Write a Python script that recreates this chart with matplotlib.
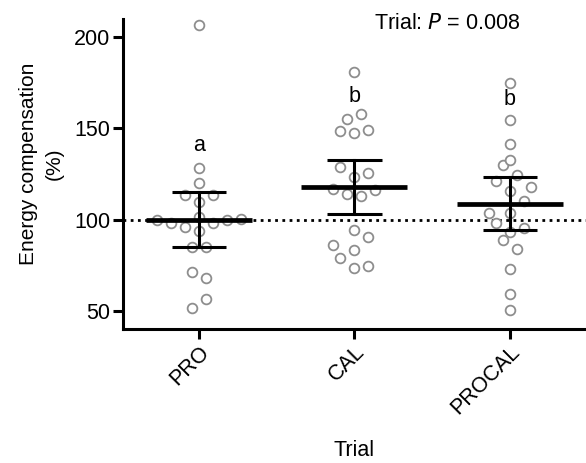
import numpy as np
import matplotlib.pyplot as plt

plt.rcParams["font.family"] = ["Liberation Sans", "DejaVu Sans"]

trials = ["PRO", "CAL", "PROCAL"]

pro_values = [206.8, 128.5, 119.8, 113.6, 113.6, 109.8, 101.3, 99.8, 98.2, 96.2,
              98.2, 99.8, 100.4, 93.5, 84.9, 84.9, 71.2, 68.0, 56.3, 51.3]
pro_cols = [0, 0, 0, -1, 1, 0, 0, -3, -2, -1, 1, 2, 3, 0, -0.5, 0.5, -0.5, 0.5, 0.5, -0.5]

cal_values = [181.0, 157.9, 155.0, 148.7, 147.5, 149.1, 128.9, 125.8, 123.1, 116.9,
              116.2, 114.0, 113.1, 94.4, 90.4, 85.8, 83.1, 79.1, 73.3, 74.5]
cal_cols = [0, 0.5, -0.5, -1, 0, 1, -1, 1, 0, -1.5, 1.5, -0.5, 0.5, 0, 1, -1.5, 0, -1, 0, 1]

procal_values = [175.0, 154.4, 141.7, 130.2, 132.6, 124.2, 120.9, 118.0, 115.5, 110.4,
                 103.8, 103.8, 98.0, 93.4, 95.5, 88.9, 83.8, 72.9, 59.1, 50.3]
procal_cols = [0, 0, 0, -0.5, 0, 0.5, -1, 1.5, 0, 1, -1.5, 0, -1, 0, 1, -0.5, 0.5, 0, 0, 0]

means = [100.0, 118.0, 108.75]
errors = [15.2, 14.9, 14.35]
letters = ["a", "b", "b"]
letter_y = [140.4, 167.7, 166.0]

groups = [(pro_values, pro_cols), (cal_values, cal_cols), (procal_values, procal_cols)]

fig = plt.figure(figsize=(5.86, 4.63), dpi=100)
ax = fig.add_axes([0.2094, 0.2894, 0.7906, 0.6696])

col_step = 0.09
for i, (vals, cols) in enumerate(groups):
    xs = i + np.array(cols) * col_step
    ax.plot(xs, vals, "o", ls="none", ms=7, mfc="white", mec="#8e8e8e", mew=1.3, zorder=2)
    # mean line and error bar
    ax.plot([i - 0.34, i + 0.34], [means[i], means[i]], color="black", lw=3.4,
            solid_capstyle="butt", zorder=3)
    ax.plot([i, i], [means[i] - errors[i], means[i] + errors[i]], color="black", lw=2.2, zorder=3)
    for yy in (means[i] - errors[i], means[i] + errors[i]):
        ax.plot([i - 0.175, i + 0.175], [yy, yy], color="black", lw=2.2,
                solid_capstyle="butt", zorder=3)
    ax.text(i, letter_y[i], letters[i], ha="center", va="center", fontsize=15.5)

ax.axhline(100, color="black", ls=(0, (1, 1.6)), lw=2.0, zorder=1)

ax.set_xlim(-0.49, 2.49)
ax.set_ylim(40, 210)
ax.set_yticks([50, 100, 150, 200])
ax.set_xticks(range(len(trials)))
ax.set_xticklabels(trials, rotation=45, ha="right", rotation_mode="anchor")

for s in ["top", "right"]:
    ax.spines[s].set_visible(False)
for s in ["left", "bottom"]:
    ax.spines[s].set_linewidth(2.2)
ax.tick_params(axis="both", width=2.2, length=7, labelsize=15.5, pad=2)

ax.set_ylabel("Energy compensation\n(%)", fontsize=15, linespacing=1.4)
ax.yaxis.set_label_coords(-0.128, 0.532)
ax.set_xlabel("Trial", fontsize=15.5, labelpad=15)

ax.text(0.857, 0.985, "Trial: $\\mathit{P}$ = 0.008", transform=ax.transAxes,
        ha="right", va="center", fontsize=15.5)

fig.savefig("out.png", dpi=100)
